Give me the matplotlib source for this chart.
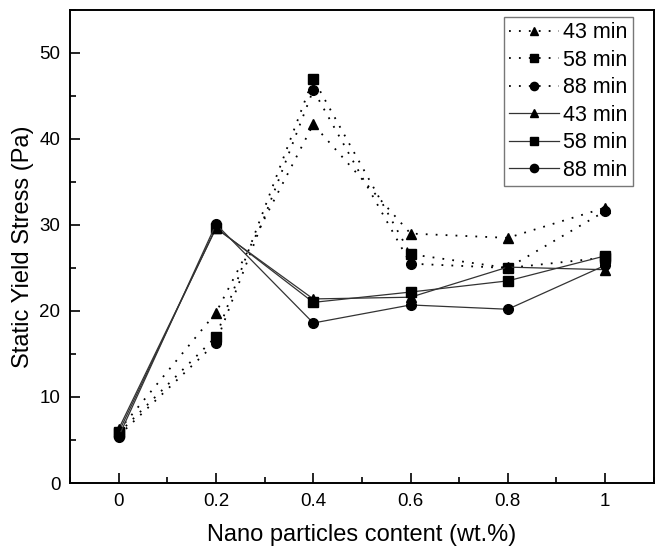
import matplotlib.pyplot as plt
from matplotlib.ticker import MultipleLocator

plt.rcParams["font.family"] = ["Liberation Sans", "DejaVu Sans"]

content = [0, 0.2, 0.4, 0.6, 0.8, 1.0]

# dotted series
dot_43 = [6.1, 19.8, 41.7, 29.0, 28.5, 32.0]
dot_58 = [5.8, 17.0, 47.0, 26.6, 25.0, 26.2]
dot_88 = [5.5, 16.3, 45.7, 25.5, 25.0, 31.6]
# solid series
sol_43 = [6.3, 29.6, 21.4, 21.6, 25.1, 24.8]
sol_58 = [5.9, 29.7, 21.0, 22.2, 23.5, 26.4]
sol_88 = [5.4, 30.1, 18.6, 20.7, 20.2, 25.3]

labels = ["43 min", "58 min", "88 min"]
markers = ["^", "s", "o"]

fig = plt.figure(figsize=(6.55, 5.52), dpi=100)
ax = fig.add_axes([0.107, 0.125, 0.891, 0.857])

for ys, m, lab in zip([dot_43, dot_58, dot_88], markers, labels):
    ax.plot(content, ys, linestyle=(0, (1, 4.5)), color="black", linewidth=1.3,
            marker=m, markersize=7, markerfacecolor="black",
            markeredgecolor="black", label=lab)
for ys, m, lab in zip([sol_43, sol_58, sol_88], markers, labels):
    ax.plot(content, ys, linestyle="-", color="#333333", linewidth=0.9,
            marker=m, markersize=7, markerfacecolor="black",
            markeredgecolor="black", label=lab)

ax.set_xlim(-0.1, 1.1)
ax.set_ylim(0, 55)
ax.set_xticks(content)
ax.set_xticklabels(["0", "0.2", "0.4", "0.6", "0.8", "1"])
ax.xaxis.set_minor_locator(MultipleLocator(0.1))
ax.set_yticks([0, 10, 20, 30, 40, 50])
ax.yaxis.set_minor_locator(MultipleLocator(5))
ax.tick_params(which="both", direction="in", labelsize=13.5, width=1.2,
               top=False, right=False, pad=7)
ax.tick_params(which="major", length=7)
ax.tick_params(which="minor", length=4)
for s in ax.spines.values():
    s.set_linewidth(1.4)

ax.set_xlabel("Nano particles content (wt.%)", fontsize=17, labelpad=10)
ax.set_ylabel("Static Yield Stress (Pa)", fontsize=17, labelpad=4)

leg = ax.legend(loc="upper right", bbox_to_anchor=(0.964, 0.985), fontsize=15.5,
                fancybox=False, edgecolor="#555555", handlelength=2.3,
                handletextpad=0.2, borderpad=0.25, borderaxespad=0.0,
                labelspacing=0.3, markerscale=0.85)
leg.get_frame().set_linewidth(1.0)

fig.savefig("out.png", dpi=100)
